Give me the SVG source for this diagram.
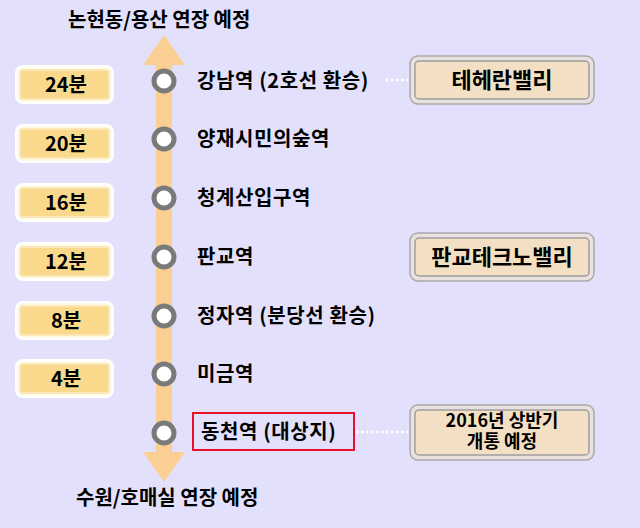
<svg xmlns="http://www.w3.org/2000/svg" width="640" height="528" viewBox="0 0 640 528">
<style>
text{font-family:"Noto Sans CJK KR","Liberation Sans",sans-serif;font-weight:bold;fill:#000}
.t{font-size:20px}
.st{font-size:20px;letter-spacing:0.6px}
.rt{font-size:22px;text-anchor:middle}
.tb{font-size:20px;text-anchor:middle}
.stn{fill:#fff;stroke:#7a7a7a;stroke-width:5}
.tout{fill:#fffbe8;stroke:#fff;stroke-width:2}
.tin{fill:#fad98c;stroke:#fbe7b6;stroke-width:2}
.rout{fill:#e9e1e0;stroke:#a9a9a9;stroke-width:1.5}
.rin{fill:#f3dfc3;stroke:#9e9e9e;stroke-width:1.5}
.dot{stroke:#fff;stroke-width:2.5;stroke-dasharray:2.5 2.5;fill:none}
</style>
<rect width="640" height="528" fill="#e3e0fb"/>
<g id="connectors">
<polygon points="156,65 172,65 172,452 156,452" fill="#fbcf93"/>
<polygon points="164,35 143,65 185,65" fill="#fbcf93"/>
<polygon points="143,452 185,452 164,482" fill="#fbcf93"/>
<line class="dot" x1="386" y1="80" x2="410" y2="80"/>
<line class="dot" x1="356" y1="432" x2="410" y2="432"/>
</g>
<text id="top" class="t" x="68" y="27">논현동/용산 연장 예정</text>
<text id="bottom" class="t" x="76" y="505">수원/호매실 연장 예정</text>
<g id="t24"><rect class="tout" x="16" y="66" width="97" height="37" rx="7"/><rect class="tin" x="20" y="70" width="89" height="29" rx="3"/><text class="tb" x="66" y="92">24분</text></g>
<g id="t20"><rect class="tout" x="16" y="125" width="97" height="37" rx="7"/><rect class="tin" x="20" y="129" width="89" height="29" rx="3"/><text class="tb" x="66" y="151">20분</text></g>
<g id="t16"><rect class="tout" x="16" y="184" width="97" height="37" rx="7"/><rect class="tin" x="20" y="188" width="89" height="29" rx="3"/><text class="tb" x="66" y="210">16분</text></g>
<g id="t12"><rect class="tout" x="16" y="243" width="97" height="37" rx="7"/><rect class="tin" x="20" y="247" width="89" height="29" rx="3"/><text class="tb" x="66" y="269">12분</text></g>
<g id="t8"><rect class="tout" x="16" y="302" width="97" height="37" rx="7"/><rect class="tin" x="20" y="306" width="89" height="29" rx="3"/><text class="tb" x="66" y="328">8분</text></g>
<g id="t4"><rect class="tout" x="16" y="360" width="97" height="37" rx="7"/><rect class="tin" x="20" y="364" width="89" height="29" rx="3"/><text class="tb" x="66" y="386">4분</text></g>
<g id="s1"><circle class="stn" cx="164" cy="81" r="10"/><text class="st" x="197" y="88">강남역 (2호선 환승)</text></g>
<g id="s2"><circle class="stn" cx="164" cy="139" r="10"/><text class="st" x="197" y="146">양재시민의숲역</text></g>
<g id="s3"><circle class="stn" cx="164" cy="198" r="10"/><text class="st" x="197" y="205">청계산입구역</text></g>
<g id="s4"><circle class="stn" cx="164" cy="257" r="10"/><text class="st" x="197" y="264">판교역</text></g>
<g id="s5"><circle class="stn" cx="164" cy="316" r="10"/><text class="st" x="197" y="323">정자역 (분당선 환승)</text></g>
<g id="s6"><circle class="stn" cx="164" cy="374" r="10"/><text class="st" x="197" y="381">미금역</text></g>
<g id="s7"><circle class="stn" cx="164" cy="433" r="10"/><rect x="193" y="413" width="161" height="37" fill="none" stroke="#e8102a" stroke-width="2"/><text class="st" x="201" y="439">동천역 (대상지)</text></g>
<g id="r1"><rect class="rout" x="410" y="56" width="184" height="48" rx="8"/><rect class="rin" x="415" y="61" width="174" height="38" rx="4"/><text class="rt" x="502" y="88">테헤란밸리</text></g>
<g id="r2"><rect class="rout" x="410" y="233" width="184" height="48" rx="8"/><rect class="rin" x="415" y="238" width="174" height="38" rx="4"/><text class="rt" x="502" y="265">판교테크노밸리</text></g>
<g id="r3"><rect class="rout" x="410" y="405" width="184" height="55" rx="8"/><rect class="rin" x="415" y="410" width="174" height="45" rx="4"/><text class="rt" x="502" y="427" style="font-size:18px">2016년 상반기</text><text class="rt" x="502" y="448" style="font-size:18px">개통 예정</text></g>
</svg>
